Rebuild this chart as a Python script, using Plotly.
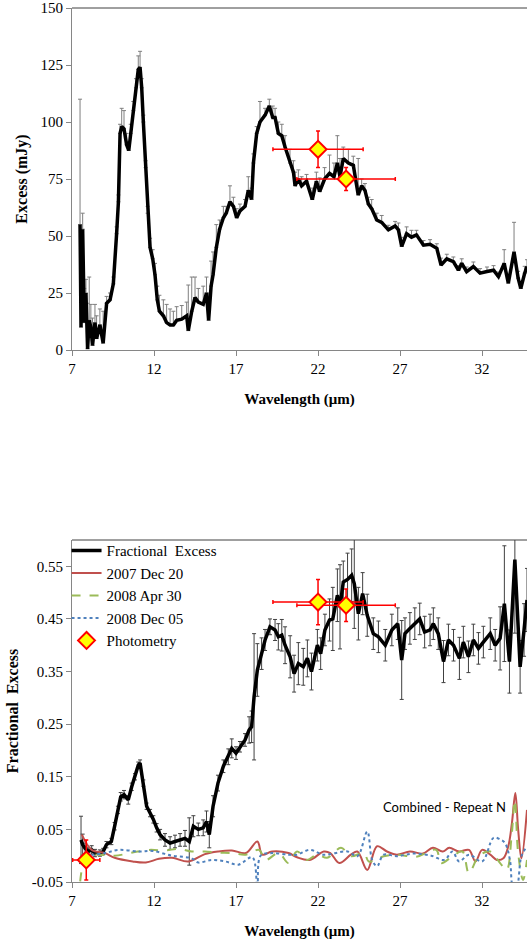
import plotly.graph_objs as go
from plotly.subplots import make_subplots

# ---- top panel: excess (mJy) ----
wl_top = [7.49, 7.55, 7.65, 7.75, 7.85, 7.95, 8.05, 8.15, 8.25, 8.4, 8.5, 8.7, 8.9, 9.11, 9.32, 9.52,
          9.72, 9.83, 9.93, 10.03, 10.17, 10.33, 10.46, 10.58, 10.74, 10.9, 11.04, 11.15, 11.25, 11.35,
          11.49, 11.61, 11.76, 11.92, 12.06, 12.2, 12.33, 12.57, 12.77, 12.98, 13.18, 13.38, 13.69, 13.99,
          14.09, 14.3, 14.5, 14.7, 15.0, 15.2, 15.33, 15.48, 15.6, 15.8, 16.0, 16.23, 16.4, 16.63, 16.84,
          17.04, 17.24, 17.55, 17.75, 17.95, 18.06, 18.26, 18.46, 18.77, 19.03, 19.24, 19.38, 19.58, 19.79,
          19.99, 20.29, 20.5, 20.6, 20.8, 21.0, 21.3, 21.65, 21.9, 22.1, 22.4, 22.7, 22.97, 23.18, 23.34,
          23.54, 23.85, 24.15, 24.45, 24.66, 24.86, 25.07, 25.27, 25.58, 25.88, 26.29, 26.7, 26.9, 27.1,
          27.4, 27.7, 28.0, 28.43, 28.83, 29.24, 29.5, 29.85, 30.25, 30.56, 30.76, 31.06, 31.47, 31.88,
          32.3, 32.7, 33.0, 33.35, 33.6, 33.95, 34.2, 34.36, 34.6, 34.74]
excess = [55, 10, 53, 12, 25, 0.5, 13, 10, 2, 12, 5, 11, 3, 20.5, 22, 29,
          51, 65, 95, 98, 97, 90, 87.5, 95, 105, 115, 123, 124, 115, 100,
          80, 60, 45, 40, 33, 22, 17, 15, 12, 11, 11, 13, 13.5, 15,
          8.5, 17, 23, 21, 20, 25, 13, 28, 33, 45, 53, 58, 60, 65, 63,
          58, 61, 63, 70, 66, 82, 95, 100, 103, 107, 102, 102, 95, 94,
          89, 82, 78, 72, 75, 72, 74, 66, 74, 69.5, 75, 77.5, 76, 82, 76,
          84, 82, 81, 68, 72, 70, 64, 62, 57, 56, 52.7, 54.4, 52.7, 45.4,
          51, 49.5, 50.5, 46, 46.4, 44.6, 37.3, 40, 38.8, 35, 38, 34.4, 36.6, 33.7,
          34.4, 35, 32.2, 38, 29.3, 43, 31.5, 27, 33.7, 36.6]
excess_err = [55, 30, 7, 15, 6, 20, 19, 10, 12, 8, 10, 7, 14, 3, 3, 3,
              3, 3, 4, 8, 8, 5, 4, 4, 4, 4, 6, 7, 4, 3,
              3, 3, 4, 4, 5, 6, 7, 7, 8, 7, 6, 6, 6, 6,
              20, 15, 9, 6, 8, 7, 12, 11, 10, 10, 4, 5, 3, 7, 4,
              4, 3, 3, 6, 5, 4, 3, 9, 3, 3, 5, 4, 5, 5,
              5, 6, 5, 6, 4, 4, 3, 5, 4, 6, 5, 8, 6, 12, 8,
              5, 6, 4, 16, 3, 3, 3, 4, 3, 3, 2, 2, 3, 4,
              3, 3, 2, 2, 2, 2, 3, 2, 2, 2, 2, 2, 2, 2,
              2, 2, 2, 6, 3, 13, 3, 3, 3, 3]

# ---- bottom panel: fractional excess ----
wl_frac = [7.55, 7.65, 7.8, 8.0, 8.2, 8.4, 8.7, 8.9, 9.1, 9.4, 9.6, 9.8, 9.97, 10.17, 10.43, 10.64,
           10.84, 11.04, 11.15, 11.35, 11.55, 11.76, 11.96, 12.16, 12.37, 12.67, 12.98, 13.28, 13.59,
           13.89, 14.15, 14.4, 14.7, 15.0, 15.2, 15.37, 15.6, 15.9, 16.23, 16.53, 16.74, 17.0, 17.24,
           17.55, 17.8, 17.95, 18.1, 18.3, 18.56, 18.77, 19.07, 19.38, 19.58, 19.79, 19.99, 20.3, 20.54,
           20.8, 21.1, 21.35, 21.6, 21.96, 22.16, 22.42, 22.7, 22.9, 23.18, 23.34, 23.54, 23.8, 24.05,
           24.21, 24.46, 24.72, 25.0, 25.37, 25.68, 26.1, 26.5, 26.86, 27.1, 27.3, 27.6, 27.9, 28.2,
           28.5, 28.83, 29.03, 29.33, 29.65, 29.95, 30.26, 30.62, 30.86, 31.17, 31.47, 31.78, 32.08,
           32.5, 32.8, 33.1, 33.36, 33.67, 34.0, 34.32, 34.56, 34.74]
frac = [0.03, 0.021, 0.014, 0.008, 0.011, 0.005, 0.005, 0.008, 0.021, 0.027, 0.056, 0.087, 0.112, 0.116, 0.106, 0.131,
        0.15, 0.172, 0.176, 0.138, 0.094, 0.081, 0.069, 0.053, 0.04, 0.03, 0.024, 0.027, 0.03,
        0.033, 0.027, 0.056, 0.05, 0.053, 0.065, 0.04, 0.094, 0.138, 0.17, 0.188, 0.204, 0.195, 0.207,
        0.22, 0.239, 0.245, 0.302, 0.353, 0.384, 0.41, 0.435, 0.429, 0.416, 0.419, 0.4, 0.378, 0.346,
        0.365, 0.359, 0.375, 0.35, 0.4, 0.384, 0.429, 0.448, 0.45, 0.495, 0.473, 0.52, 0.525, 0.533,
        0.517, 0.46, 0.498, 0.457, 0.422, 0.416, 0.4, 0.429, 0.441, 0.372, 0.422, 0.432, 0.441, 0.45,
        0.425, 0.429, 0.441, 0.422, 0.369, 0.41, 0.4, 0.375, 0.406, 0.378, 0.41, 0.394, 0.406,
        0.422, 0.4, 0.413, 0.479, 0.369, 0.563, 0.359, 0.429, 0.486]
frac_err = [0.045, 0.02, 0.01, 0.008, 0.008, 0.007, 0.006, 0.006, 0.006, 0.006, 0.007, 0.007, 0.008, 0.008, 0.008, 0.007,
            0.006, 0.006, 0.006, 0.006, 0.006, 0.007, 0.007, 0.008, 0.01, 0.012, 0.012, 0.012, 0.012,
            0.015, 0.045, 0.02, 0.012, 0.015, 0.02, 0.025, 0.02, 0.015, 0.012, 0.015, 0.018, 0.012, 0.01,
            0.012, 0.025, 0.03, 0.12, 0.05, 0.03, 0.02, 0.015, 0.02, 0.025, 0.03, 0.035, 0.04, 0.035,
            0.04, 0.035, 0.035, 0.035, 0.03, 0.03, 0.03, 0.04, 0.06, 0.05, 0.08, 0.04, 0.05, 0.05,
            0.085, 0.05, 0.04, 0.04, 0.03, 0.03, 0.03, 0.03, 0.03, 0.075, 0.03, 0.03, 0.03, 0.03,
            0.03, 0.03, 0.03, 0.03, 0.04, 0.03, 0.03, 0.04, 0.03, 0.03, 0.03, 0.03, 0.03,
            0.03, 0.03, 0.06, 0.11, 0.06, 0.14, 0.05, 0.05, 0.06]

# ---- combined minus repeat N ----
wl_r1 = [7.6, 8.2, 9.0, 9.6, 10.7, 11.5, 12.3, 13.1, 14.1, 15.1, 15.9, 16.75, 17.6, 18.3, 18.6, 19.2,
         20.2, 20.72, 21.5, 22.35, 22.75, 23.3, 24.0, 24.4, 25.0, 25.6, 26.2, 26.8, 27.6, 28.4, 29.0,
         29.6, 30.0, 30.6, 31.2, 31.6, 32.0, 32.5, 32.9, 33.3, 33.6, 33.82, 34.03, 34.2, 34.4, 34.74]
rep_2007dec20 = [0.04, 0.011, 0.005, -0.004, -0.011, -0.013, -0.006, -0.004, -0.011, 0.003, 0.008, 0.01, 0.005, 0.027, 0.002, 0.008,
                 0.005, -0.003, -0.008, 0.008, 0.005, -0.014, 0.002, 0.008, -0.027, 0.018, 0.008, 0.002, 0.008, 0.004, 0.015,
                 0.008, 0.015, 0.008, 0.011, -0.011, 0.011, 0.002, -0.008, -0.005, 0.018, 0.062, 0.119, 0.05, -0.005, 0.087]
wl_r2 = [7.5, 7.9, 8.6, 9.6, 10.7, 11.7, 12.7, 13.5, 14.3, 15.1, 15.9, 16.75, 17.6, 18.4, 18.8, 19.6,
         20.2, 20.72, 21.33, 21.94, 22.55, 23.4, 24.0, 24.8, 25.1, 26.0, 26.8, 28.0, 29.2, 29.5, 30.2,
         30.8, 31.2, 31.8, 32.5, 33.1, 33.5, 33.8, 34.0, 34.2, 34.5, 34.74]
rep_2008apr30 = [-0.049, 0.0, 0.002, 0.0, 0.006, 0.011, 0.01, 0.013, 0.008, 0.008, 0.006, 0.005, 0.002, 0.011, -0.008, 0.005,
                 -0.014, 0.008, -0.008, 0.002, -0.004, 0.015, -0.001, 0.005, -0.011, -0.001, 0.002, -0.002, 0.011, -0.014, -0.001,
                 0.008, -0.033, -0.001, 0.008, -0.014, -0.027, 0.037, 0.106, 0.005, -0.046, -0.008]
wl_r3 = [7.8, 9.0, 9.85, 11.1, 11.9, 13.1, 14.3, 14.7, 15.5, 16.35, 17.15, 18.0, 18.3, 18.5, 19.2, 20.2,
         20.72, 21.5, 22.35, 23.8, 24.4, 25.0, 25.3, 25.6, 26.0, 26.8, 27.8, 28.9, 29.7, 30.2, 30.6,
         31.2, 32.0, 32.7, 33.1, 33.4, 33.7, 33.9, 34.1, 34.4, 34.74]
rep_2008dec05 = [0.0, 0.005, 0.011, 0.008, 0.009, 0.0, -0.005, -0.013, -0.008, -0.011, -0.017, -0.003, -0.06, 0.0, 0.005, 0.002,
                 0.002, 0.011, 0.002, 0.008, -0.001, 0.046, -0.008, -0.02, 0.002, -0.001, 0.004, 0.0, -0.008, 0.008, -0.011,
                 0.002, -0.011, 0.034, 0.031, 0.024, -0.008, -0.06, -0.06, -0.001, 0.018]

# ---- photometry ----
phot_wl = [22.0, 23.71]
phot_wl_err = [2.75, 3.0]
phot_mjy = [88, 75]
phot_mjy_err = [8, 5]
phot_wl_b = [7.87, 22.0, 23.71]
phot_wl_err_b = [0.83, 2.75, 3.0]
phot_frac = [-0.008, 0.482, 0.476]
phot_frac_err = [0.038, 0.043, 0.031]

serif = "Liberation Serif"
axis_col = "#868686"

fig = make_subplots(rows=2, cols=1, vertical_spacing=0.2174)

# top panel
fig.add_trace(go.Scatter(x=wl_top, y=excess, mode='markers', marker=dict(size=0.1, color='rgba(0,0,0,0)'),
                         error_y=dict(type='data', symmetric=False, array=excess_err, arrayminus=[0] * len(excess_err),
                                      color='#7f7f7f', thickness=1, width=2),
                         showlegend=False, hoverinfo='skip'), row=1, col=1)
fig.add_trace(go.Scatter(x=wl_top, y=excess, mode='lines', line=dict(color='black', width=3.5),
                         showlegend=False), row=1, col=1)
fig.add_trace(go.Scatter(x=phot_wl, y=phot_mjy, mode='markers',
                         marker=dict(symbol='diamond', size=13, color='#FFFF00', line=dict(color='#FF0000', width=2)),
                         error_x=dict(type='data', array=phot_wl_err, color='#FF0000', thickness=1.5, width=2),
                         error_y=dict(type='data', array=phot_mjy_err, color='#FF0000', thickness=1.5, width=2),
                         showlegend=False), row=1, col=1)

# bottom panel
fig.add_trace(go.Scatter(x=wl_frac, y=frac, mode='markers', marker=dict(size=0.1, color='rgba(0,0,0,0)'),
                         error_y=dict(type='data', array=frac_err, color='#404040', thickness=1, width=2),
                         showlegend=False, hoverinfo='skip'), row=2, col=1)
fig.add_trace(go.Scatter(x=wl_frac, y=frac, mode='lines', name='Fractional  Excess',
                         line=dict(color='black', width=3.5)), row=2, col=1)
fig.add_trace(go.Scatter(x=wl_r1, y=rep_2007dec20, mode='lines', name='2007 Dec 20',
                         line=dict(color='#C0504D', width=2, shape='spline')), row=2, col=1)
fig.add_trace(go.Scatter(x=wl_r2, y=rep_2008apr30, mode='lines', name='2008 Apr 30',
                         line=dict(color='#9BBB59', width=2, dash='dash', shape='spline')), row=2, col=1)
fig.add_trace(go.Scatter(x=wl_r3, y=rep_2008dec05, mode='lines', name='2008 Dec 05',
                         line=dict(color='#4F81BD', width=2, dash='dot', shape='spline')), row=2, col=1)
fig.add_trace(go.Scatter(x=phot_wl_b, y=phot_frac, mode='markers', name='Photometry',
                         marker=dict(symbol='diamond', size=13, color='#FFFF00', line=dict(color='#FF0000', width=2)),
                         error_x=dict(type='data', array=phot_wl_err_b, color='#FF0000', thickness=1.5, width=2),
                         error_y=dict(type='data', array=phot_frac_err, color='#FF0000', thickness=1.5, width=2)),
              row=2, col=1)

xaxis_style = dict(range=[7, 34.74], tickvals=[7, 12, 17, 22, 27, 32], showgrid=False, zeroline=False,
                   showline=True, linecolor=axis_col, linewidth=1, ticks='outside', ticklen=5, tickcolor=axis_col,
                   tickfont=dict(family=serif, size=15, color='black'),
                   title=dict(text='<b>Wavelength (μm)</b>', font=dict(family=serif, size=15, color='black'), standoff=17))
fig.update_xaxes(**xaxis_style, row=1, col=1)
fig.update_xaxes(**xaxis_style, row=2, col=1)

yaxis_style = dict(showgrid=False, zeroline=False, showline=True, linecolor=axis_col, linewidth=1,
                   ticks='outside', ticklen=5, tickcolor=axis_col, tickfont=dict(family=serif, size=15, color='black'))
fig.update_yaxes(**yaxis_style, range=[0, 150], tickvals=[0, 25, 50, 75, 100, 125, 150],
                 title=dict(text='<b>Excess (mJy)</b>', font=dict(family=serif, size=16, color='black'), standoff=8),
                 row=1, col=1)
fig.update_yaxes(**yaxis_style, range=[-0.05, 0.6], tickvals=[-0.05, 0.05, 0.15, 0.25, 0.35, 0.45, 0.55],
                 ticktext=['-0.05', '0.05', '0.15', '0.25', '0.35', '0.45', '0.55'],
                 title=dict(text='<b>Fractional  Excess</b>', font=dict(family=serif, size=16, color='black'), standoff=9),
                 row=2, col=1)

# top border of each plot area
for yref in ['y domain', 'y2 domain']:
    xr = 'x domain' if yref == 'y domain' else 'x2 domain'
    fig.add_shape(type='line', xref=xr, yref=yref, x0=0, x1=1, y0=1, y1=1, line=dict(color='#404040', width=1))

fig.add_annotation(text='Combined - Repeat N', xref='x2', yref='y2', x=33.6, y=0.093, xanchor='right',
                   showarrow=False, font=dict(family='Lato', size=13, color='black'))

fig.update_layout(width=527, height=943, margin=dict(l=72, r=0, t=8, b=61),
                  plot_bgcolor='white', paper_bgcolor='white',
                  legend=dict(x=-0.012, y=0.398, xanchor='left', yanchor='top', bgcolor='rgba(0,0,0,0)',
                              font=dict(family=serif, size=15, color='black'), tracegroupgap=0,
                              itemwidth=30),
                  showlegend=True)

# drop the browser's default body margin so the figure fills the window
fig.write_html("out.html", config={'displayModeBar': False},
               post_script="document.body.style.margin='0';")
